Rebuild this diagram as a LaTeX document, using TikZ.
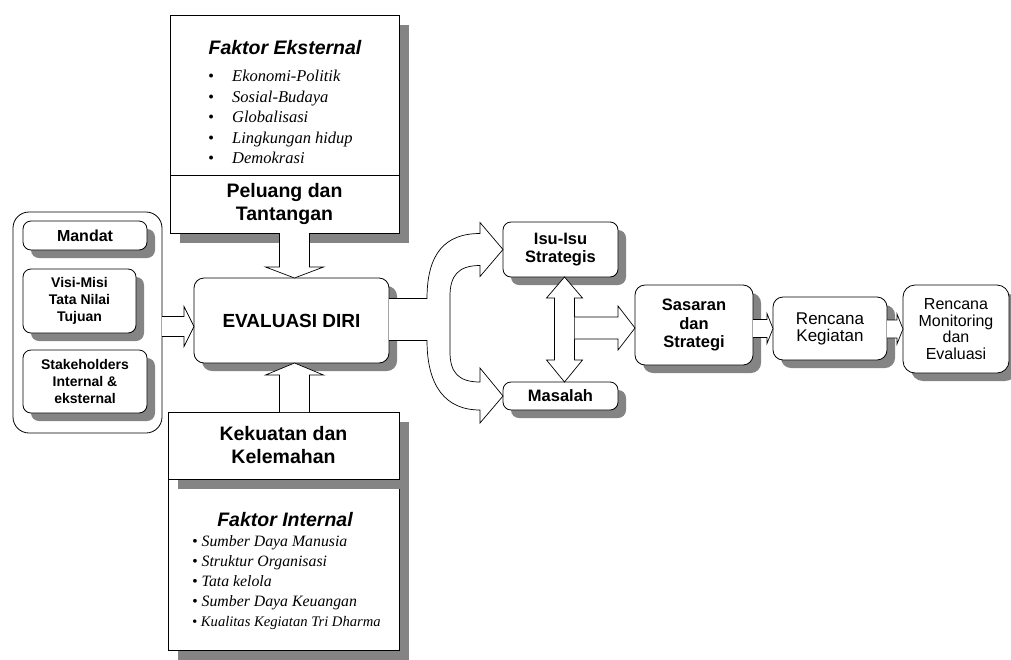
\documentclass[tikz,border=0pt]{standalone}
\usepackage{fontspec}
\setmainfont{Liberation Serif}
\setsansfont{Liberation Sans}
\usepackage{tikz}
\usetikzlibrary{shadows}
\usetikzlibrary{calc}
\definecolor{shade}{RGB}{132,132,132}
\newcommand{\boxfont}[2]{\sffamily\bfseries\fontsize{#1}{#2}\selectfont}

\tikzset{
  box/.style={draw, fill=white, line width=0.8pt, rounded corners=8pt, align=center,
    inner sep=2pt, outer sep=0pt,
    drop shadow={shadow xshift=8pt, shadow yshift=-8pt, fill=shade, opacity=1}},
  bigbox/.style={draw, fill=white, line width=0.8pt, align=center, inner sep=2pt, outer sep=0pt,
    drop shadow={shadow xshift=10pt, shadow yshift=-10pt, fill=shade, opacity=1}},
  title/.style={font=\sffamily\bfseries\itshape\fontsize{19.5}{22}\selectfont},
  hollow/.style={draw, fill=white, line width=0.7pt, line join=miter},
}

\begin{document}
\begin{tikzpicture}[x=1pt,y=-1pt]
\path[use as bounding box, fill=white] (0,0) rectangle (1011,659);

% left group
\node[draw, line width=0.8pt, rounded corners=16pt, minimum width=149pt, minimum height=221pt, outer sep=0pt] (grp) at (87.5,322.5) {};
\node[box, minimum width=124pt, minimum height=29pt, font=\boxfont{16}{18}] (mandat) at (85,235.5) {Mandat};
\node[box, minimum width=113pt, minimum height=64pt, font=\boxfont{14}{17}] (visi) at (79.5,301) {Visi-Misi\\Tata Nilai\\Tujuan};
\node[box, minimum width=124pt, minimum height=63pt, font=\boxfont{14}{17}] (stake) at (85,381.5) {Stakeholders\\Internal \&\\eksternal};

% centre column
\node[box, rounded corners=10pt, minimum width=195pt, minimum height=85pt, font=\boxfont{19}{22}] (eval) at (291.5,320.5) {EVALUASI DIRI};
\node[bigbox, minimum width=229pt, minimum height=160pt] (ext) at (284.5,95) {};
\node[title] (extt) at (285,48) {Faktor Eksternal};
\node[anchor=west, align=left, inner sep=0pt, font=\itshape\fontsize{16.5}{20.5}\selectfont] (extl) at (208,117)
  {\makebox[24pt][l]{\textbullet}Ekonomi-Politik\\
   \makebox[24pt][l]{\textbullet}Sosial-Budaya\\
   \makebox[24pt][l]{\textbullet}Globalisasi\\
   \makebox[24pt][l]{\textbullet}Lingkungan hidup\\
   \makebox[24pt][l]{\textbullet}Demokrasi};
\node[bigbox, minimum width=229pt, minimum height=58pt, font=\boxfont{19.5}{23}] (pel) at (284.5,204) {Peluang dan\\Tantangan};

\node[bigbox, minimum width=231pt, minimum height=171pt] (int) at (283.5,564.5) {};
\node[title] (intt) at (285,520) {Faktor Internal};
\node[anchor=west, align=left, inner sep=0pt, font=\itshape\fontsize{15.8}{20}\selectfont] (intl) at (192,583)
  {\textbullet\ Sumber Daya Manusia\\
   \textbullet\ Struktur Organisasi\\
   \textbullet\ Tata kelola\\
   \textbullet\ Sumber Daya Keuangan\\
   {\fontsize{14.6}{20}\selectfont\textbullet\ Kualitas Kegiatan Tri Dharma}};
\node[bigbox, minimum width=231pt, minimum height=67pt, font=\boxfont{19.5}{23}] (kek) at (283.5,445.5) {Kekuatan dan\\Kelemahan};

% right side
\node[box, minimum width=115pt, minimum height=55pt, font=\boxfont{16.5}{18}] (isu) at (560.5,249.5) {Isu-Isu\\Strategis};
\node[box, minimum width=115pt, minimum height=28pt, font=\boxfont{16.5}{18}] (mas) at (560.5,396) {Masalah};
\node[box, rounded corners=10pt, minimum width=118pt, minimum height=80pt, font=\boxfont{16.5}{18.5}] (sas) at (694,325) {Sasaran\\dan\\Strategi};
\node[box, rounded corners=10pt, minimum width=114pt, minimum height=63pt, font=\sffamily\fontsize{17}{17}\selectfont] (keg) at (830,328.5) {Rencana\\Kegiatan};
\node[box, rounded corners=12pt, minimum width=106pt, minimum height=88pt, font=\sffamily\fontsize{16}{16.5}\selectfont] (mon) at (956,329) {Rencana\\Monitoring\\dan\\Evaluasi};

% block arrows
\coordinate (ta) at ($(eval.north)+(3,0)$);
\draw[hollow] ($(ta|-pel.south)+(-15,0)$) -- ($(ta)+(-15,-11)$) -- ($(ta)+(-29,-11)$) -- (ta)
  -- ($(ta)+(29,-11)$) -- ($(ta)+(15,-11)$) -- ($(ta|-pel.south)+(15,0)$);
\coordinate (tb) at ($(eval.south)+(3,0)$);
\draw[hollow] ($(tb|-kek.north)+(-15,0)$) -- ($(tb)+(-15,12)$) -- ($(tb)+(-29,12)$) -- (tb)
  -- ($(tb)+(29,12)$) -- ($(tb)+(15,12)$) -- ($(tb|-kek.north)+(15,0)$);
\coordinate (tl) at ($(eval.west)+(0,6)$);
\draw[hollow] ($(tl-|grp.east)+(0,-10)$) -- ($(tl)+(-10,-10)$) -- ($(tl)+(-10,-20)$) -- (tl)
  -- ($(tl)+(-10,20)$) -- ($(tl)+(-10,10)$) -- ($(tl-|grp.east)+(0,10)$);

\draw[hollow] ($(eval.east)+(0,-22)$) -- ++(38,0)
  .. controls +(0,-45) and +(-35,0) .. ($(isu.west)+(-23,-16)$) -- ++(0,-11) -- (isu.west)
  -- ($(isu.west)+(-23,27)$) -- ++(0,-11)
  .. controls +(-22,0) and +(0,-20) .. ($(isu.west)+(-53,46.5)$)
  -- ($(mas.west)+(-53,-44)$)
  .. controls +(0,20) and +(-22,0) .. ($(mas.west)+(-23,-14)$)
  -- ++(0,-14) -- (mas.west) -- ($(mas.west)+(-23,27)$) -- ++(0,-13)
  .. controls +(-35,0) and +(0,45) .. ($(eval.east)+(38,20)$) -- ($(eval.east)+(0,20)$);

\coordinate (va) at ($(isu.south)+(4,0)$);
\coordinate (vb) at ($(mas.north)+(4,0)$);
\draw[hollow] (va) -- ++(18,21) -- ++(-8,0) -- ($(vb)+(10,-22)$) -- ++(8,0) -- (vb)
  -- ++(-18,-22) -- ++(8,0) -- ($(va)+(-10,21)$) -- ++(-8,0) -- cycle;
\coordinate (ha) at ($(sas.west)+(0,3)$);
\draw[hollow] ($(ha-|va)+(10,-11)$) -- ($(ha)+(-17,-11)$) -- ($(ha)+(-17,-22)$) -- (ha)
  -- ($(ha)+(-17,22)$) -- ($(ha)+(-17,11)$) -- ($(ha-|va)+(10,11)$);

\draw[hollow] ($(keg.west-|sas.east)+(0,-9)$) -- ($(keg.west)+(-6,-9)$) -- ($(keg.west)+(-6,-15)$) -- (keg.west)
  -- ($(keg.west)+(-6,15)$) -- ($(keg.west)+(-6,9)$) -- ($(keg.west-|sas.east)+(0,9)$);
\draw[hollow] ($(mon.west-|keg.east)+(0,-9)$) -- ($(mon.west)+(-6,-9)$) -- ($(mon.west)+(-6,-15)$) -- (mon.west)
  -- ($(mon.west)+(-6,15)$) -- ($(mon.west)+(-6,9)$) -- ($(mon.west-|keg.east)+(0,9)$);
\end{tikzpicture}
\end{document}
